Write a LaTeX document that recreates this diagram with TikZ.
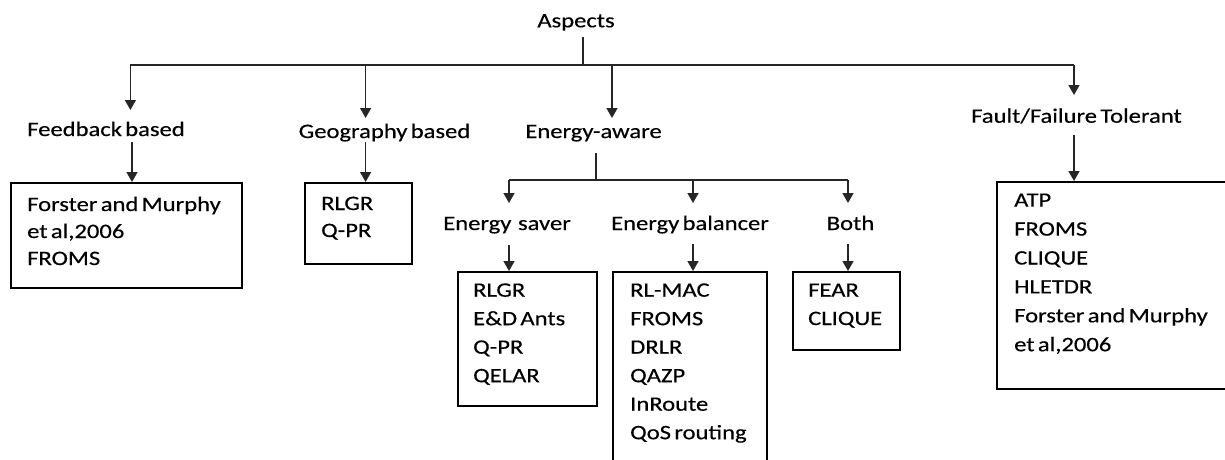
\documentclass[tikz,border=0pt]{standalone}
\usepackage{fontspec}
\setmainfont{Carlito}[FakeStretch=1.2,WordSpace=0.6,FakeBold=0.4]
\usetikzlibrary{arrows.meta}
\newcommand\stk[2]{{\fontsize{20.5}{#1}\selectfont\begin{tabular}[t]{@{}l@{}}#2\end{tabular}}}
\begin{document}
\begin{tikzpicture}[x=1pt,y=-1pt,
  font=\fontsize{20.5}{24}\selectfont,
  lbl/.style={inner sep=0pt, anchor=base},
  lst/.style={inner sep=0pt, anchor=base west},
  box/.style={draw=black, line width=1.5pt, anchor=north west, inner sep=0pt},
  con/.style={line width=1.5pt, draw=black!85},
  arr/.style={con, -{Triangle[width=11pt,length=10pt]}}]
\useasboundingbox (0,0) rectangle (1225,459);
\begin{scope}
\clip (0,0) rectangle (1225,459);
% labels
\node[lbl] (asp) at (576,27.3) {Aspects};
\node[lbl] (fb) at (106,136) {Feedback based};
\node[lbl] (geo) at (384.5,138) {Geography based};
\node[lbl] (ea) at (593.5,138) {Energy-aware};
\node[lbl] (ft) at (1076.5,122.7) {Fault/Failure Tolerant};
\node[lbl] (es) at (507,230) {Energy\ \ saver};
\node[lbl] (eb) at (690,230) {Energy balancer};
\node[lbl] (both) at (850.5,230) {Both};
% boxes
\node[box, minimum width=231pt, minimum height=105pt] (fbbox) at (10,182) {};
\node[box, minimum width=107pt, minimum height=81pt] (geobox) at (304,182) {};
\node[box, minimum width=139pt, minimum height=134pt] (esbox) at (457,271) {};
\node[box, minimum width=154pt, minimum height=210pt] (ebbox) at (612,271) {};
\node[box, minimum width=107pt, minimum height=78pt] (bothbox) at (792,271) {};
\node[box, minimum width=250pt, minimum height=207pt] (ftbox) at (996,181) {};
% box texts
\node[lst] (fbtxt) at (27,211) {\stk{27}{Forster and Murphy\\et al,2006\\FROMS}};
\node[lst] (geotxt) at (321,210) {\stk{27}{RLGR\\Q-PR}};
\node[lst] (estxt) at (473,296.7) {\stk{28.5}{RLGR\\E\&D Ants\\Q-PR\\QELAR}};
\node[lst] (ebtxt) at (630,296.7) {\stk{28.5}{RL-MAC\\FROMS\\DRLR\\QAZP\\InRoute\\QoS routing}};
\node[lst] (bothtxt) at (808,296.7) {\stk{28.3}{FEAR\\CLIQUE}};
\node[lst] (fttxt) at (1014,206.7) {\stk{28.9}{ATP\\FROMS\\CLIQUE\\HLETDR\\Forster and Murphy\\et al,2006}};
% connectors, top level
\coordinate (root) at (583,37);
\coordinate (bus) at (583,65);
\coordinate (busL) at (130.4,65);
\coordinate (busR) at (1074,65);
\coordinate (bgeo) at (365.6,65);
\coordinate (bea) at (612,65);
\draw[con] (root) -- (bus);
\draw[con] (busL) -- (busR);
\coordinate (tfb) at (130.4,110);
\coordinate (tgeo) at (365.6,118);
\coordinate (tea) at (612,118);
\coordinate (tft) at (1074,95);
\draw[arr] (busL) -- (tfb);
\draw[arr] (bgeo) -- (tgeo);
\draw[arr] (bea) -- (tea);
\draw[arr] (busR) -- (tft);
% to boxes
\coordinate (sfb) at (132,142);
\coordinate (sgeo) at (365.6,142);
\coordinate (sft) at (1074,135);
\draw[arr] (sfb) -- (sfb |- fbbox.north);
\draw[arr] (sgeo) -- (sgeo |- geobox.north);
\draw[arr] (sft) -- (sft |- ftbox.north);
% energy-aware subtree
\coordinate (eas) at (596,153);
\coordinate (eab) at (596,180);
\coordinate (b2L) at (509,180);
\coordinate (b2M) at (693,180);
\coordinate (b2R) at (848,180);
\draw[con] (eas) -- (eab);
\draw[con] (b2L) -- (b2R);
\coordinate (tes) at (509,203);
\coordinate (teb) at (693,203);
\coordinate (tboth) at (848,203);
\draw[arr] (b2L) -- (tes);
\draw[arr] (b2M) -- (teb);
\draw[arr] (b2R) -- (tboth);
\coordinate (ses) at (509,245);
\coordinate (seb) at (693,244);
\coordinate (sboth) at (848,244);
\draw[arr] (ses) -- (ses |- esbox.north);
\draw[arr] (seb) -- (seb |- ebbox.north);
\draw[arr] (sboth) -- (sboth |- bothbox.north);
\end{scope}
\end{tikzpicture}
\end{document}
